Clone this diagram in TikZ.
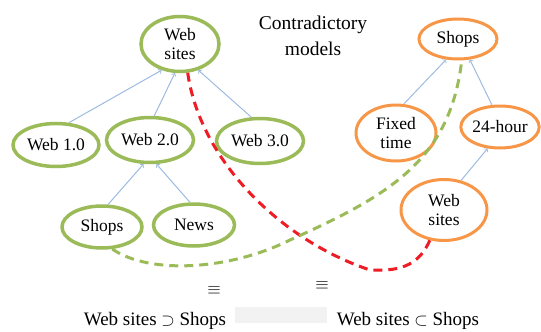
\documentclass[tikz,border=0pt]{standalone}
\usepackage{fontspec}
\setmainfont{Liberation Serif}
\usepackage{tikz}
\usetikzlibrary{shapes.geometric}

\definecolor{webgreen}{HTML}{9BBB59}
\definecolor{shoporange}{HTML}{F79646}
\definecolor{linkblue}{HTML}{9DBBE0}
\definecolor{modelred}{HTML}{EE1C24}

\begin{document}
\begin{tikzpicture}[x=1pt, y=-1pt,
    greenbox/.style={ellipse, draw=webgreen, line width=3.5pt, inner sep=0pt, align=center,
                     font=\fontsize{17.5}{19}\selectfont},
    orangebox/.style={ellipse, draw=shoporange, line width=3pt, inner sep=0pt, align=center,
                      font=\fontsize{17.5}{19}\selectfont},
    link/.style={->, draw=linkblue, line width=1pt},
    model/.style={dashed, line width=3pt, dash pattern=on 9pt off 6pt},
    label/.style={font=\fontsize{19}{26}\selectfont, align=center}]
    \useasboundingbox (0,0) rectangle (541,332);
    \fill [black!5] (235,307) rectangle (327,323);

    % left model
    \node [greenbox, minimum width=78, minimum height=55] (wsL) at (180,44) {Web\\sites};
    \node [greenbox, minimum width=86, minimum height=43] (web1) at (56,145) {Web 1.0};
    \node [greenbox, minimum width=87, minimum height=45] (web2) at (150,140) {Web 2.0};
    \node [greenbox, minimum width=87, minimum height=45] (web3) at (260,141) {Web 3.0};
    \node [greenbox, minimum width=80, minimum height=42] (shopsL) at (102,227) {Shops};
    \node [greenbox, minimum width=81, minimum height=42] (news) at (194,225) {News};

    \draw [link] (web1.60) -- (wsL.-125);
    \draw [link] (web2.80) -- (wsL.-100);
    \draw [link] (web3.110) -- (wsL.-55);
    \draw [link] (shopsL.75) -- (web2.-105);
    \draw [link] (news.100) -- (web2.-75);

    % right model
    \node [orangebox, minimum width=78, minimum height=40] (shopsR) at (458,39) {Shops};
    \node [orangebox, minimum width=80, minimum height=56] (fixed) at (396,133) {Fixed\\time};
    \node [orangebox, minimum width=77, minimum height=42] (hour) at (500,127) {24-hour};
    \node [orangebox, minimum width=86, minimum height=61] (wsR) at (444,210) {Web\\sites};

    \draw [link] (fixed.75) -- (shopsR.-120);
    \draw [link] (hour.110) -- (shopsR.-60);
    \draw [link] (wsR.60) -- (hour.-120);

    \node [label, font=\fontsize{19.5}{26}\selectfont] (title) at (313,36) {Contradictory\\models};

    % contradiction lines
    \draw [model, modelred] (wsL.-75) .. controls (200,160) and (280,240) .. (370,270)
                                      .. controls (405,272) and (420,262) .. (wsR.-115);
    \draw [model, webgreen] (shopsL.-65) .. controls (150,275) and (230,270) .. (290,240)
                                         .. controls (390,195) and (450,160) .. (shopsR.-80);

    \node [label] (eqL) at (214,290) {$\equiv$};
    \node [label] (eqR) at (322,285) {$\equiv$};
    \node [label] (supL) at (155,321) {Web sites $\supset$ Shops};
    \node [label] (subR) at (408,321) {Web sites $\subset$ Shops};
\end{tikzpicture}
\end{document}
